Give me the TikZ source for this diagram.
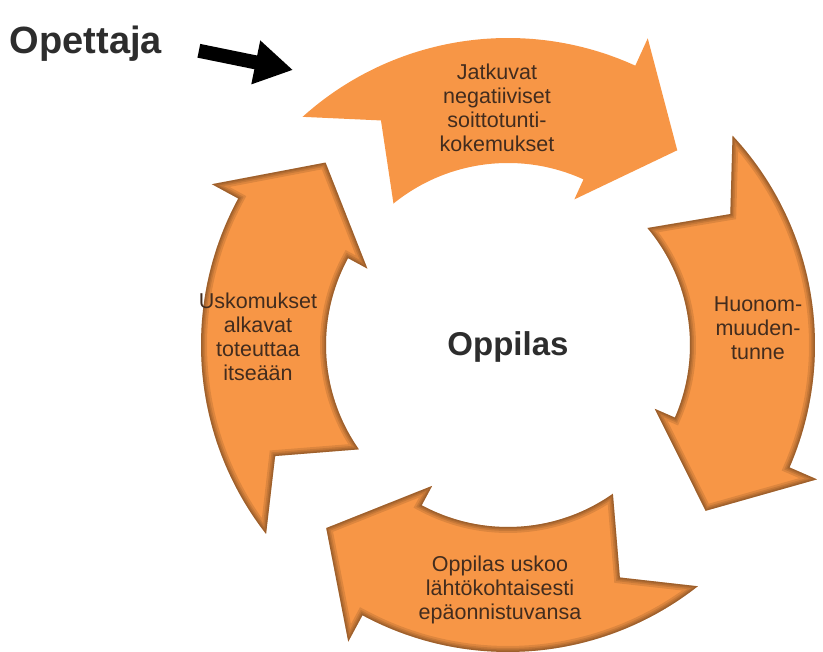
\documentclass[tikz,border=0pt]{standalone}
\usepackage{fontspec}
\setmainfont{Liberation Sans}
\usetikzlibrary{arrows.meta}
\definecolor{arrowfill}{HTML}{F79646}
\definecolor{inktext}{RGB}{66,44,30}
\definecolor{headtext}{RGB}{45,45,45}
\newcommand{\ringarrow}[1]{(#1+1.5:307) arc[start angle=#1+1.5, end angle=#1-65, radius=307]
    -- (#1-65:337) -- (#1-81.5:258) -- (#1-65:160) -- (#1-65:182)
    arc[start angle=#1-65, end angle=#1-1.5, radius=182] -- (#1-11:258) -- cycle}
\begin{document}
\begin{tikzpicture}[x=1pt, y=1pt]
            \tikzstyle{cycletext} = [text=inktext, align=center, font=\fontsize{21.5}{24}\selectfont]
            \tikzstyle{headline} = [text=headtext, font=\bfseries\fontsize{38}{40}\selectfont]
            \tikzstyle{pointer} = [line width=14pt, -{Triangle[length=38pt, width=42pt]}]
            \tikzstyle{inset} = [black, opacity=.1]

            \useasboundingbox (0,0) rectangle (823,652);
            \coordinate (hub) at (508,307);

            \begin{scope}[shift={(hub)}]
                \foreach \a/\s in {130.5/0, 41.5/1, -53.3/1, 216.5/1} {
                    \fill[arrowfill] \ringarrow{\a};
                    \ifnum\s=1
                        \begin{scope}
                            \clip \ringarrow{\a};
                            \foreach \w in {12,8,5,2.5}
                                \draw[inset, line width=\w pt] \ringarrow{\a};
                        \end{scope}
                    \fi
                }
            \end{scope}

            \node [cycletext] (jatkuvat) at (497,544) {Jatkuvat\\negatiiviset\\soittotunti-\\kokemukset};
            \node [cycletext] (huonommuus) at (758,324) {Huonom-\\muuden-\\tunne};
            \node [cycletext] (usko) at (500,62) {Oppilas uskoo\\lähtökohtaisesti\\epäonnistuvansa};
            \node [cycletext] (uskomukset) at (258,315) {Uskomukset\\alkavat\\toteuttaa\\itseään};

            \node [headline, font=\bfseries\fontsize{33}{35}\selectfont] (oppilas) at (508,305) {Oppilas};
            \node [headline] (opettaja) at (86,608) {Opettaja};

            \coordinate (pointer tip) at (293,582);
            \draw [pointer, shorten <=34pt] (opettaja.east) -- (pointer tip);
        \end{tikzpicture}
\end{document}
